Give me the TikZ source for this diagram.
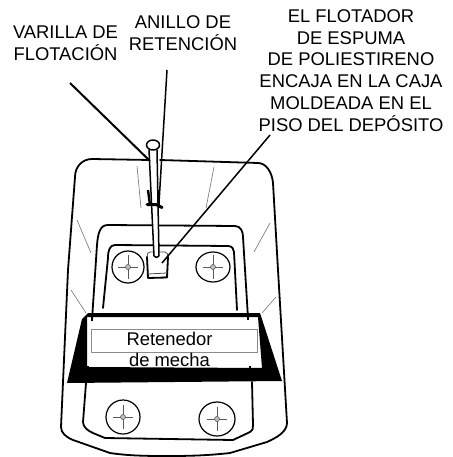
\documentclass[tikz,border=0pt]{standalone}
\usepackage{fontspec}
\setmainfont{Liberation Sans}
\begin{document}
\begin{tikzpicture}[x=1pt,y=-1pt,
  thick line/.style={line width=1.8pt,black,line join=round,line cap=round},
  mid line/.style={line width=1.5pt,black,line join=round,line cap=round},
  leader/.style={line width=1.5pt,black},
  hair/.style={line width=0.6pt,black!55},
  screw/.style={draw=black,line width=1.2pt},
  cross/.style={line width=0.6pt,black!65},
  label/.style={inner sep=0pt,align=center,font=\fontsize{18.4}{21.7}\selectfont}]
\useasboundingbox (0,0) rectangle (452,457);
\fill[white] (0,0) rectangle (452,457);
% hair lines
\foreach \a/\b/\c/\d in {137/166/141/208,214/167/206/208,77/220/91/253,270/223/254/252,276/297/262/313,71/290/86/313}
  \draw[hair] (\a,\b) -- (\c,\d);
% outer shell
\draw[thick line] (150,160) -- (92,159) .. controls (82,159) and (75,167) .. (75,177) -- (68,270) -- (61,427) .. controls (61,433) and (66,437) .. (73,440) -- (110,453) .. controls (130,456) and (150,456) .. (170,456) .. controls (195,456) and (212,455) .. (230,453) -- (267,442) .. controls (276,438) and (287,432) .. (287,423) -- (278,270) -- (273,183) .. controls (272,172) and (266,163) .. (258,163) -- (160,160);
% inner outlines
\draw[thick line] (92,320) -- (97,245) .. controls (98,233) and (100,225) .. (108,225) -- (235,226) .. controls (241,226) and (243,232) .. (243,237) -- (248,318);
\draw[thick line] (103,308) -- (108,258) .. controls (108,250) and (110,245) .. (115,245) -- (228,246) .. controls (232,246) and (234,249) .. (234,252) -- (237,310);
\draw[thick line] (86,383) -- (83,422) .. controls (83,427) and (88,431) .. (93,433) -- (105,438) -- (233,440) -- (250,432) .. controls (253,430) and (253,428) .. (253,425) -- (252,382);
% wick retainer
\fill[black,even odd rule] (88,313) -- (260,313) -- (282,381) -- (67,383) -- (82,319) -- cycle (87,317) -- (87,367) -- (262,368) -- (258,317) -- cycle;
\draw[line width=0.9pt,black!45] (91,329) rectangle (257,352);
\draw[line width=1.2pt] (92,316) -- (92,321) (248,316) -- (248,320) (88,366) -- (88,369) (250,366) -- (250,369);
% screws
\foreach \x/\y/\rx/\ry in {128/267/16/16,213/267/17/15,123/417/17/17,217/419/18/17}{
  \draw[screw] (\x,\y) ellipse [x radius=\rx,y radius=\ry];
  \draw[cross] (\x-10,\y) -- (\x+10,\y) (\x,\y-12) -- (\x,\y+12);
  \draw[cross,fill=black!25] (\x,\y) circle (2.5);
}
% float
\draw[line width=0.8pt,black!70,fill=white] (150,252) -- (165,252) .. controls (167,252) and (168,254) .. (168,257) -- (167,277) -- (148,278) -- (147,257) .. controls (147,254) and (148,252) .. (150,252) -- cycle;
\draw[thick line] (147,257) -- (148,278) -- (167,277.5) -- (168,257);
\draw[line width=0.8pt,black!70] (148,274) -- (167,273);
% rod
\draw[mid line,fill=white] (149,150) -- (154,256) .. controls (155,258) and (158,258) .. (159,256) -- (157,150);
\draw[mid line,fill=white] (153,145) ellipse [x radius=6.5,y radius=5];
% ring and leaders
\coordinate (varillaEnd) at (70,83);
\coordinate (varillaTip) at (150,161);
\coordinate (anilloEnd) at (167,70);
\coordinate (anilloTip) at (159,203);
\coordinate (floatTip) at (162,263);
\coordinate (floatEnd) at (270,135);
\draw[leader,line width=2pt] (varillaEnd) -- (varillaTip);
\draw[leader] (anilloEnd) -- (anilloTip);
\draw[leader] (floatTip) -- (floatEnd);
\draw[line width=2.4pt] (148,190) -- (150,205);
\draw[line width=2.4pt] (159,190) -- (159,206);
\draw[line width=3pt,line cap=round] (147,204.5) -- (156,204.5) -- (162,207.5);
% labels
\node[label] (varilla) at (65.5,43.5) {VARILLA DE\\FLOTACIÓN};
\node[label] (anillo) at (183,33.5) {ANILLO DE\\RETENCIÓN};
\node[label] (flotador) at (351,70.5) {EL FLOTADOR\\DE ESPUMA\\DE POLIESTIRENO\\ENCAJA EN LA CAJA\\MOLDEADA EN EL\\PISO DEL DEPÓSITO};
\node[label] (retenedor) at (169.5,349.5) {Retenedor\\de mecha};
\end{tikzpicture}
\end{document}
